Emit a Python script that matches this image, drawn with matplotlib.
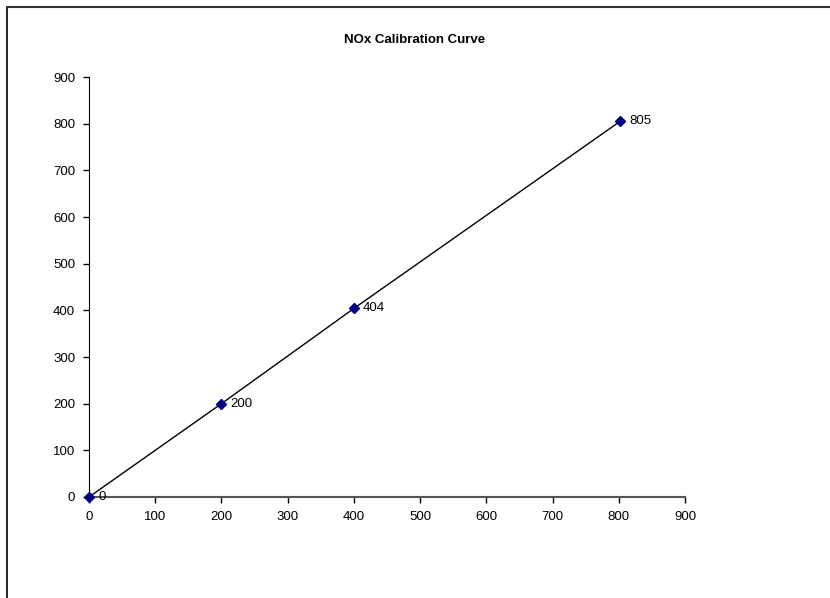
import matplotlib.pyplot as plt
from matplotlib.lines import Line2D

plt.rcParams['font.family'] = ['Liberation Sans', 'DejaVu Sans']

# calibration points
actual = [0, 200, 400, 802]
measured = [0, 200, 404, 805]
ticks = [0, 100, 200, 300, 400, 500, 600, 700, 800, 900]

fig = plt.figure(figsize=(8.3, 5.98), dpi=100)
ax = fig.add_axes([0.1072, 0.1689, 0.7181, 0.7023])

ax.plot(actual, measured, color='black', linewidth=1, zorder=2)
ax.plot(actual, measured, linestyle='none', marker='D', markersize=5,
        color='#000080', zorder=3, clip_on=False)
for x, y in zip(actual, measured):
    ax.annotate(str(y), (x, y), xytext=(6.5, 0), textcoords='offset points',
                va='center', ha='left', fontsize=9.5)

ax.set_xlim(0, 900)
ax.set_ylim(0, 900)
ax.set_xticks(ticks)
ax.set_yticks(ticks)
ax.tick_params(labelsize=9.5, length=4, width=1, direction='out', pad=6)
ax.spines['top'].set_visible(False)
ax.spines['right'].set_visible(False)
ax.spines['left'].set_color('black')
ax.spines['bottom'].set_color('#555555')
ax.spines['bottom'].set_linewidth(1.5)

fig.text(0.5, 0.933, 'NOx Calibration Curve', ha='center', va='center',
         fontsize=9.5, fontweight='bold')

# outer chart frame (only left and top edges visible)
fig.add_artist(Line2D([0.0085, 0.0085], [0, 0.988], transform=fig.transFigure,
                      color='black', linewidth=1.2))
fig.add_artist(Line2D([0.0085, 1.0], [0.988, 0.988], transform=fig.transFigure,
                      color='#333333', linewidth=1.5))

fig.savefig('out.png', dpi=100)
